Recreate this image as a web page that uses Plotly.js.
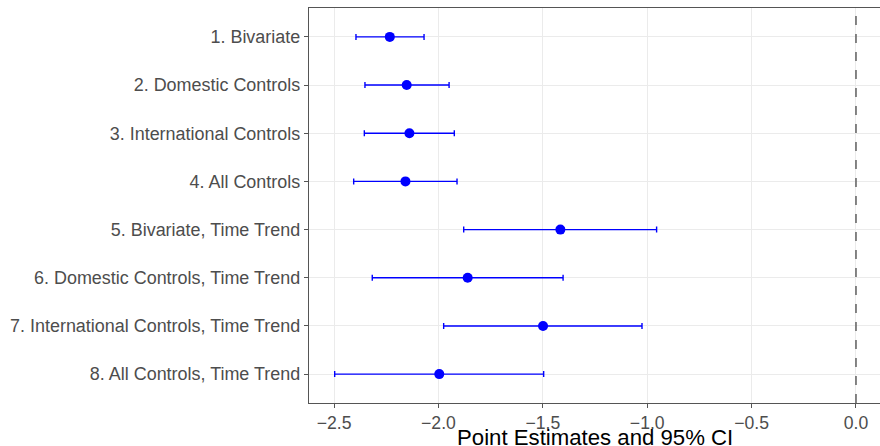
<!DOCTYPE html>
<html>
<head>
<meta charset="utf-8">
<script src="https://cdn.plot.ly/plotly-3.0.1.min.js"></script>
<style>html,body{margin:0;padding:0;background:#fff;}#chart{width:880px;height:446px;}</style>
</head>
<body>
<div id="chart"></div>
<script>
const models = [
  "1. Bivariate",
  "2. Domestic Controls",
  "3. International Controls",
  "4. All Controls",
  "5. Bivariate, Time Trend",
  "6. Domestic Controls, Time Trend",
  "7. International Controls, Time Trend",
  "8. All Controls, Time Trend"
];
const estimates = [-2.233, -2.152, -2.139, -2.158, -1.416, -1.860, -1.499, -1.996];
const ciLower   = [-2.395, -2.352, -2.355, -2.406, -1.879, -2.317, -1.975, -2.497];
const ciUpper   = [-2.069, -1.949, -1.924, -1.911, -0.955, -1.403, -1.025, -1.496];
const xTicks = [-2.5, -2.0, -1.5, -1.0, -0.5, 0.0];
const xTitle = 'Point Estimates and 95% CI';

const positions = models.map((m, i) => i + 1);
const plus = estimates.map((e, i) => ciUpper[i] - e);
const minus = estimates.map((e, i) => e - ciLower[i]);

const trace = {
  type: 'scatter',
  mode: 'markers',
  x: estimates,
  y: positions,
  marker: {color: '#0000FF', size: 10},
  error_x: {type: 'data', symmetric: false, array: plus, arrayminus: minus,
            color: '#0000FF', thickness: 1.4, width: 3},
  showlegend: false,
  hoverinfo: 'x+y'
};

const layout = {
  width: 880, height: 446,
  margin: {l: 309, r: 0, t: 8, b: 43},
  paper_bgcolor: '#fff', plot_bgcolor: '#fff',
  font: {family: "'Liberation Sans', Arial, Helvetica, sans-serif"},
  xaxis: {
    range: [-2.62, 0.115],
    tickvals: xTicks,
    ticktext: xTicks.map(v => (v < 0 ? '\u2212' : '') + Math.abs(v).toFixed(1)),
    showgrid: true, gridcolor: '#EBEBEB', gridwidth: 1,
    zeroline: false,
    showline: true, linecolor: '#555555', linewidth: 1.2, mirror: true,
    ticks: 'outside', ticklen: 4, tickcolor: '#555555',
    tickfont: {size: 17.6, color: '#4D4D4D'}
  },
  yaxis: {
    range: [8.6, 0.4],
    tickvals: positions,
    ticktext: models,
    showgrid: true, gridcolor: '#EBEBEB', gridwidth: 1,
    zeroline: false,
    showline: true, linecolor: '#555555', linewidth: 1.2,
    ticks: 'outside', ticklen: 4, tickcolor: '#555555',
    tickfont: {size: 17.95, color: '#4D4D4D'}
  },
  annotations: [{
    text: xTitle, xref: 'paper', yref: 'paper', x: 0.5, y: 0,
    xanchor: 'center', yanchor: 'middle', yshift: -34, showarrow: false,
    font: {size: 22.2, color: '#000'}
  }],
  shapes: [{
    type: 'line', xref: 'x', yref: 'paper', x0: 0, x1: 0, y0: 0, y1: 1,
    line: {color: '#555555', width: 1.4, dash: 'dash'}
  }]
};

Plotly.newPlot('chart', [trace], layout, {displayModeBar: false, staticPlot: true});
</script>
</body>
</html>
